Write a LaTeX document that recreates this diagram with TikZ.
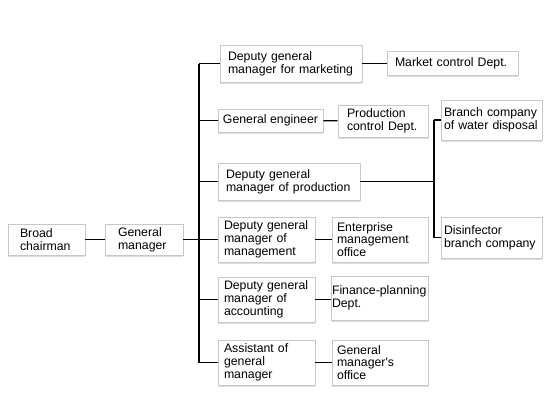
\documentclass[tikz,border=0pt]{standalone}
\usepackage{fontspec}
\setmainfont{Liberation Sans}
\usetikzlibrary{shadows}
\definecolor{boxline}{HTML}{C8C8C8}
\begin{document}
\begin{tikzpicture}[x=1pt,y=-1pt,
  box/.style={draw=boxline, fill=white, line width=0.9pt,
    font=\fontsize{12.3}{12.7}\selectfont, align=left, inner ysep=0pt,
    drop shadow={shadow xshift=0pt, shadow yshift=-1.6pt, fill=black!13, opacity=1}},
  link/.style={draw=black, line width=1.1pt}]
\useasboundingbox (0,0) rectangle (550,413);
% level 0/1
\node[box, minimum width=77pt, minimum height=31pt, text width=53pt, inner xsep=12pt] (chair) at (46.5,239.5) {Broad\\chairman};
\node[box, minimum width=78pt, minimum height=31pt, text width=52pt, inner xsep=13pt] (gm) at (144,239.5) {General\\manager};
% level 2
\node[box, minimum width=142pt, minimum height=37pt, text width=126pt, inner xsep=8pt] (mkt) at (291,63.5) {Deputy general\\manager for marketing};
\node[box, minimum width=105pt, minimum height=23pt, inner xsep=4pt] (ge) at (270.5,120.5) {General engineer};
\node[box, minimum width=142pt, minimum height=37pt, text width=126pt, inner xsep=8pt] (prod) at (289,181.5) {Deputy general\\manager of production};
\node[box, minimum width=97pt, minimum height=45pt, text width=85pt, inner xsep=6pt] (mgmt) at (266.5,239.5) {Deputy general\\manager of\\management};
\node[box, minimum width=97pt, minimum height=45pt, text width=85pt, inner xsep=6pt] (acc) at (266.5,299.5) {Deputy general\\manager of\\accounting};
\node[box, minimum width=97pt, minimum height=45pt, text width=85pt, inner xsep=6pt] (asst) at (266.5,362.5) {Assistant of\\general\\manager};
% level 3
\node[box, minimum width=131pt, minimum height=24pt, text width=115pt, inner xsep=8pt] (mcd) at (452.5,63.5) {Market control Dept.};
\node[box, minimum width=90pt, minimum height=32pt, text width=72pt, inner xsep=9pt] (pcd) at (383,121) {Production\\control Dept.};
\node[box, minimum width=96pt, minimum height=45pt, text width=86pt, inner xsep=5pt] (emo) at (380,239.5) {Enterprise\\management\\office};
\node[box, minimum width=96pt, minimum height=44pt, text width=96pt, inner xsep=0.5pt] (fin) at (380,298) {Finance-planning\\Dept.};
\node[box, minimum width=96pt, minimum height=45pt, text width=86pt, inner xsep=5pt] (gmo) at (380,362.5) {General\\manager\textquotesingle s\\office};
\node[box, minimum width=101pt, minimum height=40pt, text width=95pt, inner xsep=3pt] (bwd) at (491.5,120) {Branch company\\of water disposal};
\node[box, minimum width=101pt, minimum height=41pt, text width=95pt, inner xsep=3pt] (dis) at (491.5,237.5) {Disinfector\\branch company};
% trunks
\coordinate (t0) at (199,63.5);
\coordinate (t1) at (199,362.5);
\coordinate (u0) at (434,120);
\coordinate (u1) at (434,237.5);
\draw[link] (chair) -- (gm);
\draw[link] (gm.east) -- (gm.east -| t0);
\draw[link] (t0) -- (t1);
\draw[link] (t0) -- (mkt.west);
\draw[link] (ge.west -| t0) -- (ge.west);
\draw[link] (prod.west -| t0) -- (prod.west);
\draw[link] (mgmt.west -| t0) -- (mgmt.west);
\draw[link] (acc.west -| t0) -- (acc.west);
\draw[link] (t1) -- (asst.west);
\draw[link] (mkt) -- (mcd);
\draw[link] (ge) -- (pcd);
\draw[link] (mgmt) -- (emo);
\draw[link] (acc.east) -- (acc.east -| fin.west);
\draw[link] (asst) -- (gmo);
\draw[link] (prod.east) -- (prod.east -| u0);
\draw[link] (u0) -- (u1);
\draw[link] (u0) -- (bwd.west);
\draw[link] (u1) -- (dis.west);
\end{tikzpicture}
\end{document}
